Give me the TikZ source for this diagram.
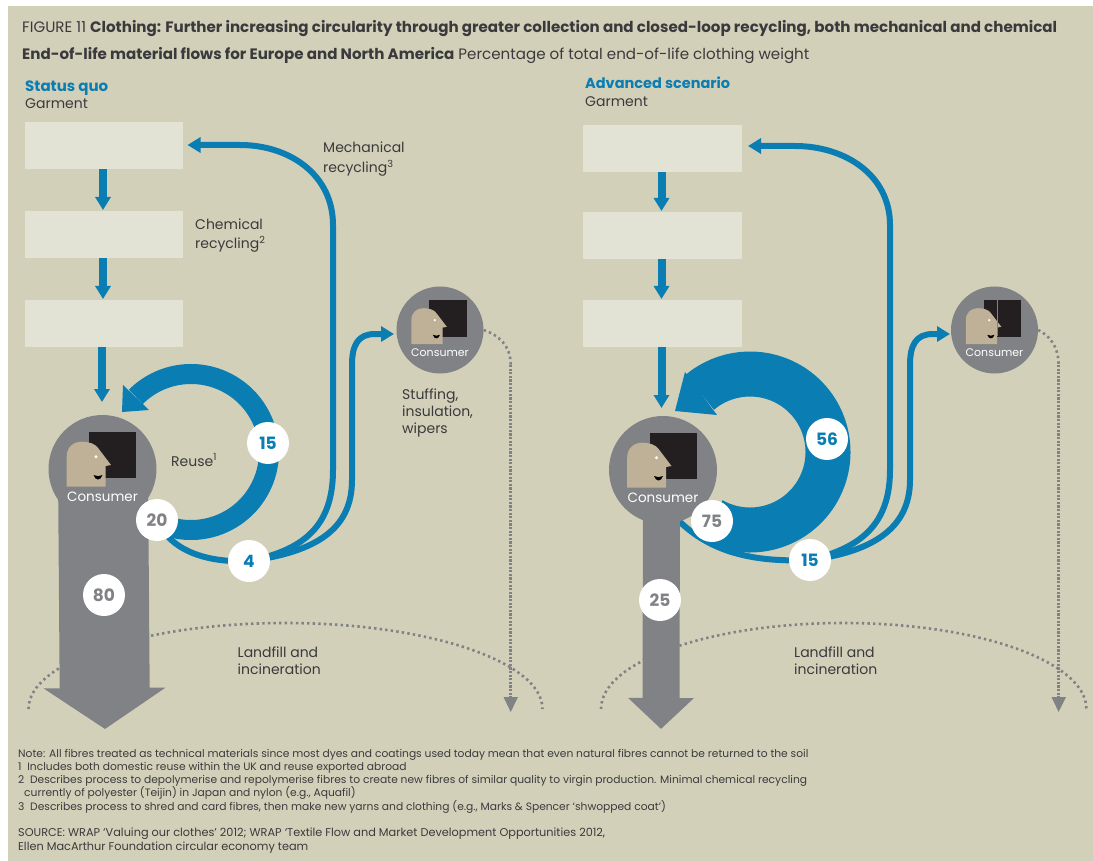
\documentclass[tikz,border=0pt]{standalone}
\usepackage{fontspec}
\setmainfont{Poppins}
\usetikzlibrary{arrows.meta,calc}
\definecolor{bgc}{HTML}{D3D0BA}
\definecolor{boxc}{HTML}{E2E3D5}
\definecolor{bluec}{HTML}{0A7DB3}
\definecolor{greyc}{HTML}{808285}
\definecolor{headc}{HTML}{BEB197}
\definecolor{blackc}{HTML}{231F20}
\definecolor{textc}{HTML}{3A3A3C}
\tikzset{
  stagebox/.style={fill=boxc,draw=none,minimum width=158pt,minimum height=47pt,inner sep=0pt},
  num/.style={circle,fill=white,minimum size=42pt,inner sep=0pt,font=\fontsize{17}{17}\selectfont\bfseries},
  numblue/.style={num,text=bluec},
  numgrey/.style={num,text=greyc},
  lbl/.style={anchor=base west,inner sep=0pt,text=textc,font=\fontsize{14}{17}\selectfont,align=left},
  head1/.style={anchor=base west,inner sep=0pt,text=textc,font=\fontsize{15.1}{15.1}\selectfont},
  downflow/.style={draw=bluec,line width=8pt,-{Triangle[length=13pt,width=15pt]}},
  thinflow/.style={draw=bluec,line width=6pt,line cap=butt},
  thinend/.style={draw=bluec,line width=6pt,-{Triangle[length=13pt,width=15pt]}},
  sparse/.style={draw=greyc,line width=2.6pt,dash pattern=on 2.4pt off 3.2pt},
  dense/.style={draw=greyc,line width=3pt,dash pattern=on 2.2pt off 1.4pt},
  notefont/.style={anchor=north west,inner sep=0pt,text=textc,align=left},
}
\newcommand{\consumerfig}[6]{%
  \begin{scope}[shift={(#2,#3)},scale=#5]
    \node[circle,fill=greyc,minimum size=#4pt,inner sep=0pt] (#1) at (0,0) {};
    \fill[blackc] (-13.5,-37) rectangle (33.5,9);
    \fill[headc] (-35.8,17.7) -- (-35.8,-12.3) .. controls (-35.8,-22) and (-29,-27.3) .. (-20.8,-27.3)
      .. controls (-13,-27.3) and (-7,-25) .. (-4.2,-20.7) -- (8.5,-4) -- (3.2,-3) -- (3.2,17.7) -- cycle;
    \fill[white] (-6.5,-12.3) circle (1.6);
    \fill[black] (-9,6) .. controls (-7,12) and (-2,12) .. (0,6) .. controls (-3,7.5) and (-6,7.5) .. (-9,6) -- cycle;
    \node[text=white,inner sep=0pt,font=\fontsize{#6}{#6}\selectfont] (#1t) at (0,28) {Consumer};
  \end{scope}}
\begin{document}
\begin{tikzpicture}[x=1pt,y=-1pt]
\useasboundingbox (0,0) rectangle (1093,861);
\fill[white] (0,0) rectangle (1093,861);
\fill[bgc] (8,6) rectangle (1093,861);

% Header
\node[head1] (t1) at (22,33) {FIGURE 11 \textbf{Clothing: Further increasing circularity through greater collection and closed-loop recycling, both mechanical and chemical}};
\node[head1] (t2) at (22,60) {\textbf{End-of-life material flows for Europe and North America} Percentage of total end-of-life clothing weight};
\node[lbl,text=bluec,font=\fontsize{15}{17}\selectfont] (sq) at (25,92) {\textbf{Status quo}};
\node[lbl] (g1) at (25,109) {Garment};
\node[lbl,text=bluec,font=\fontsize{14.5}{17}\selectfont] (as) at (585,89) {\textbf{Advanced scenario}};
\node[lbl] (g2) at (585,107) {Garment};

% Landfill arcs
\coordinate (la) at (28.5,709);
\coordinate (ra) at (601,709);
\draw[sparse] (la) arc[start angle=180,end angle=360,x radius=257,y radius=86];
\draw[sparse] (ra) arc[start angle=180,end angle=360,x radius=242.7,y radius=86];

% Boxes
\node[stagebox] (a1) at (104,145.5) {};
\node[stagebox] (a2) at (104,234.5) {};
\node[stagebox] (a3) at (104,323.5) {};
\node[stagebox,minimum width=159pt] (b1) at (662.5,148.5) {};
\node[stagebox,minimum width=159pt] (b2) at (662.5,235.5) {};
\node[stagebox,minimum width=159pt] (b3) at (662.5,323.5) {};

\coordinate (n4c) at (249,561);
\coordinate (n15c) at (810,560);
\coordinate (n20c) at (157,520);
\coordinate (n75c) at (712,521);

% Thin flows, left
\coordinate (t1a) at (187.5,145);
\coordinate (t2a) at (394,334);
\draw[thinend] (n4c) .. controls (305,550) and (333,525) .. (333,470) -- (333,225) .. controls (333,175) and (290,145) .. (240,145) -- (t1a);
\draw[thinend] (n4c) .. controls (315,552) and (352,530) .. (352,480) -- (352,365) .. controls (352,345) and (358,334) .. (375,334) -- (t2a);
\draw[thinflow] (n20c) .. controls (170,550) and (205,563) .. (n4c);
% Thin flows, right
\coordinate (t3a) at (748,146);
\coordinate (t4a) at (950,334);
\coordinate (b75) at (676,518);
\draw[thinend] (n15c) .. controls (860,548) and (890,525) .. (890,470) -- (890,225) .. controls (890,175) and (845,146) .. (795,146) -- (t3a);
\draw[thinend] (n15c) .. controls (870,552) and (910,530) .. (910,480) -- (910,365) .. controls (910,345) and (916,334) .. (933,334) -- (t4a);
\draw[thinflow] (b75) .. controls (705,548) and (745,563) .. (n15c);

% Grey columns
\coordinate (tipL) at (105,729);
\coordinate (tipR) at (661,729);
\coordinate (c1) at (103,469);
\coordinate (c2) at (661.5,470);
\draw[greyc,line width=90pt,-{Triangle[length=41pt,width=120pt]}] (c1) -- (tipL);
\draw[greyc,line width=37pt,-{Triangle[length=31pt,width=64pt]}] (c2) -- (tipR);

% Consumers
\consumerfig{cL}{102.5}{469}{108}{1}{13.5}
\consumerfig{cR}{663}{470}{108}{1}{13.5}
\consumerfig{sL}{440}{330}{87}{0.8}{11}
\consumerfig{sR}{994.5}{330}{87}{0.8}{11}
\fill[greyc] (996.5,299) rectangle (998,336);

% Down arrows
\draw[downflow] (a1) ++(-1,23.5) -- (103,210);
\draw[downflow] (a2) ++(-1,23.5) -- (103,299);
\draw[downflow] (a3) ++(-2,23.5) -- (102,402);
\draw[downflow] (b1) ++(-1,23.5) -- (661.5,211);
\draw[downflow] (b2) ++(-1,23.5) -- (661.5,299);
\draw[downflow] (b3) ++(-1,23.5) -- (661.5,408);

% Rings
\coordinate (rc1) at (191,452);
\coordinate (rc2) at (750,452);
\draw[draw=bluec,line width=20pt] ([shift={(117:78)}]rc1) arc[start angle=117,end angle=-135,radius=78];
\fill[bluec] (123,385) -- (122,412) -- (149,410) -- cycle;
\draw[draw=bluec,line width=45pt] ([shift={(119:78)}]rc2) arc[start angle=119,end angle=-130,radius=78];
\fill[bluec] (685,372) -- (675,411) -- (717,415) -- cycle;

% Dotted flows to landfill
\coordinate (d1) at (510.7,712);
\coordinate (d2) at (1058.6,712);
\draw[sparse] (sL.east) .. controls (498,335) and (510.7,345) .. (510.7,365);
\draw[dense] (510.7,365) -- (510.7,698);
\fill[greyc] (503.5,697) -- (518,697) -- (d1) -- cycle;
\draw[sparse] (sR.east) .. controls (1048,335) and (1058.6,345) .. (1058.6,365);
\draw[dense] (1058.6,365) -- (1058.6,698);
\fill[greyc] (1051.5,697) -- (1066,697) -- (d2) -- cycle;

% Number badges
\node[numblue] (n15L) at (268,443) {15};
\node[numgrey] (n20) at (n20c) {20};
\node[numblue] (n4) at (n4c) {4};
\node[numgrey] (n80) at (104,595) {80};
\node[numblue] (n56) at (827,439) {56};
\node[numgrey] (n75) at (n75c) {75};
\node[numblue] (n15R) at (n15c) {15};
\node[numgrey] (n25) at (660,600) {25};

% Labels (multi-line nodes: the base anchor lies on the last line)
\node[lbl,font=\fontsize{14}{20}\selectfont] (mech) at (323,173) {Mechanical\\recycling\textsuperscript{3}};
\node[lbl,font=\fontsize{14}{19}\selectfont] (chem) at (195,249) {Chemical\\recycling\textsuperscript{2}};
\node[lbl] (reuse) at (171,466) {Reuse\textsuperscript{1}};
\node[lbl] (stuff) at (402,433) {Stuffing,\\insulation,\\wipers};
\node[lbl] (lf1) at (237.5,674) {Landfill and\\incineration};
\node[lbl] (lf2) at (794,674) {Landfill and\\incineration};

% Notes
\node[notefont,font=\fontsize{10.7}{13.2}\selectfont] (notes) at (18,749) {Note: All fibres treated as technical materials since most dyes and coatings used today mean that even natural fibres cannot be returned to the soil\\
1\ \ Includes both domestic reuse within the UK and reuse exported abroad\\
2\ \ Describes process to depolymerise and repolymerise fibres to create new fibres of similar quality to virgin production. Minimal chemical recycling\\
\hspace*{6pt}currently of polyester (Teijin) in Japan and nylon (e.g., Aquafil)\\
3\ \ Describes process to shred and card fibres, then make new yarns and clothing (e.g., Marks \& Spencer ‘shwopped coat’)};
\node[notefont,font=\fontsize{11.3}{13.2}\selectfont] (source) at (18,828) {SOURCE: WRAP ‘Valuing our clothes’ 2012; WRAP ‘Textile Flow and Market Development Opportunities 2012,\\
Ellen MacArthur Foundation circular economy team};
\end{tikzpicture}
\end{document}
